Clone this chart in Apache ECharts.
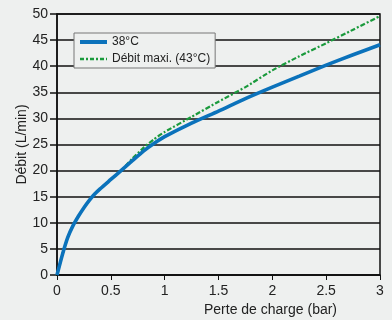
<!DOCTYPE html>
<html><head><meta charset="utf-8">
<script src="https://cdn.jsdelivr.net/npm/echarts@6/dist/echarts.min.js"></script>
<style>html,body{margin:0;padding:0;background:#eef0ef}#c{width:392px;height:320px}</style>
</head><body><div id="c"></div>
<script>
const seriesNames = ['38°C', 'Débit maxi. (43°C)'];
const xTitle = 'Perte de charge (bar)';
const yTitle = 'Débit (L/min)';
const blueX = [0, 0.05, 0.1, 0.15, 0.2, 0.25, 0.3, 0.35, 0.4, 0.5, 0.6, 0.7, 0.8, 0.9, 1.0, 1.25, 1.5, 1.75, 2.0, 2.25, 2.5, 2.75, 3.0];
const blueY = [0, 3.9, 7.2, 9.5, 11.3, 12.9, 14.3, 15.5, 16.5, 18.3, 20.1, 21.9, 23.7, 25.2, 26.5, 29.1, 31.4, 33.8, 36.0, 38.1, 40.2, 42.2, 44.1];
const greenX = [0, 0.05, 0.1, 0.15, 0.2, 0.25, 0.3, 0.35, 0.4, 0.5, 0.6, 0.7, 0.8, 0.9, 1.0, 1.25, 1.5, 1.75, 2.0, 2.25, 2.5, 2.75, 3.0];
const greenY = [0, 3.9, 7.2, 9.5, 11.3, 12.9, 14.3, 15.5, 16.5, 18.3, 20.1, 22.3, 24.3, 26.0, 27.4, 30.3, 33.2, 36.0, 39.2, 41.9, 44.4, 47.0, 49.6];

const blue = '#0b72bb', green = '#1a9a3c';
const font = "'Liberation Sans', Arial, sans-serif";
const chart = echarts.init(document.getElementById('c'));
chart.setOption({
  backgroundColor: '#eef0ef',
  animation: false,
  textStyle: {fontFamily: font},
  grid: {left: 57, right: 12, top: 14, bottom: 45, outerBoundsMode: 'none', show: true, borderColor: '#111', borderWidth: 1.5, backgroundColor: 'transparent'},
  legend: {
    left: 74, top: 33, orient: 'vertical',
    padding: [3, 5, 3, 4], itemGap: 5, itemWidth: 27, itemHeight: 12,
    borderColor: '#777', borderWidth: 1, backgroundColor: '#eef0ef',
    itemStyle: {opacity: 0},
    textStyle: {fontFamily: font, fontSize: 12, color: '#222'},
    data: [
      {name: seriesNames[0], lineStyle: {width: 4, color: blue}},
      {name: seriesNames[1], lineStyle: {width: 2.5, color: green, type: [4, 2, 2, 2]}}
    ]
  },
  xAxis: {
    type: 'value', min: 0, max: 3, interval: 0.5,
    name: xTitle, nameLocation: 'middle', nameGap: 28, nameMoveOverlap: false,
    nameTextStyle: {fontFamily: font, fontSize: 14, color: '#222', padding: [0, 0, 0, 104]},
    axisLine: {show: true, lineStyle: {color: '#111', width: 1.5}},
    axisTick: {show: true, length: 5, lineStyle: {color: '#111'}},
    axisLabel: {fontFamily: font, fontSize: 14, color: '#222', margin: 9},
    splitLine: {show: false}
  },
  yAxis: {
    type: 'value', min: 0, max: 50, interval: 5,
    name: yTitle, nameLocation: 'middle', nameGap: 28, nameMoveOverlap: false,
    nameTextStyle: {fontFamily: font, fontSize: 14, color: '#222'},
    axisLine: {show: true, lineStyle: {color: '#111', width: 1.5}},
    axisTick: {show: true, length: 7, lineStyle: {color: '#111', width: 1.5}},
    axisLabel: {fontFamily: font, fontSize: 14, color: '#222', margin: 9},
    splitLine: {show: true, lineStyle: {color: '#111', width: 1.5}}
  },
  series: [
    {
      name: seriesNames[1], type: 'line', smooth: 0.2, symbol: 'none', z: 2,
      data: greenX.map((x, i) => [x, greenY[i]]),
      lineStyle: {color: green, width: 2.2, type: [5, 2, 2, 2]},
      itemStyle: {color: green}
    },
    {
      name: seriesNames[0], type: 'line', smooth: 0.2, symbol: 'none', z: 3,
      data: blueX.map((x, i) => [x, blueY[i]]),
      lineStyle: {color: blue, width: 3.6},
      itemStyle: {color: blue}
    }
  ]
});
</script></body></html>
